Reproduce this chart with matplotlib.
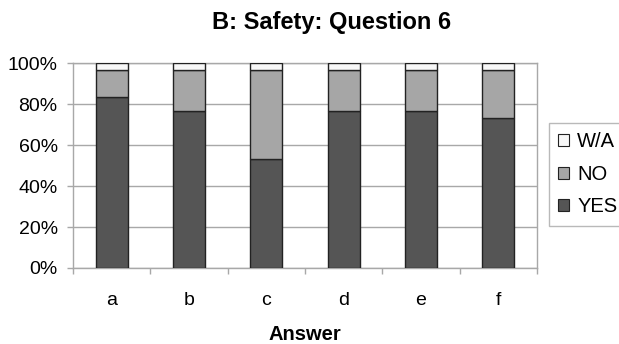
import matplotlib
matplotlib.use("Agg")
import matplotlib.pyplot as plt
from matplotlib.patches import Patch
from matplotlib.ticker import FixedLocator, PercentFormatter

plt.rcParams['font.family'] = ['Liberation Sans', 'DejaVu Sans']

# share of responses per answer option (%)
answers = ['a', 'b', 'c', 'd', 'e', 'f']
yes = [83.3, 76.7, 53.3, 76.7, 76.7, 73.3]
no = [13.3, 20.0, 43.3, 20.0, 20.0, 23.3]
wa = [3.4, 3.3, 3.4, 3.3, 3.3, 3.4]

W, H = 619, 344
fig = plt.figure(figsize=(W / 100, H / 100), dpi=100)
ax = fig.add_axes([73 / W, 1 - 268 / H, (537 - 73) / W, (268 - 63) / H])

x = list(range(len(answers)))
edge = dict(edgecolor='#222222', linewidth=1.0, width=0.41, zorder=3)
ax.bar(x, yes, color='#555555', **edge)
bottom2 = [a + b for a, b in zip(yes, no)]
ax.bar(x, no, bottom=yes, color='#a6a6a6', **edge)
ax.bar(x, wa, bottom=bottom2, color='#f7f7f7', **edge)

ax.set_xlim(-0.5, len(answers) - 0.5)
ax.set_ylim(0, 100)
ax.set_yticks(range(0, 101, 20))
ax.yaxis.set_major_formatter(PercentFormatter(decimals=0))
ax.grid(axis='y', color='#a8a8a8', linewidth=1.0, zorder=0)

ax.set_xticks(x)
ax.set_xticklabels(answers)
ax.xaxis.set_minor_locator(FixedLocator([i - 0.5 for i in range(len(answers) + 1)]))
ax.tick_params(axis='x', which='major', length=0, pad=17, labelsize=14)
ax.tick_params(axis='x', which='minor', length=4, color='#a8a8a8', width=1)
ax.tick_params(axis='y', length=4, color='#a8a8a8', width=1, pad=7, labelsize=14)

for side in ['left', 'bottom', 'right', 'top']:
    ax.spines[side].set_color('#a8a8a8')
    ax.spines[side].set_linewidth(1.0)

ax.set_xlabel('Answer', fontsize=14.5, fontweight='bold', labelpad=12)
fig.text(332 / W, 1 - 22 / H, 'B: Safety: Question 6', ha='center', va='center',
         fontsize=17, fontweight='bold')

handles = [Patch(facecolor='#f7f7f7', edgecolor='#222222', linewidth=0.8, label='W/A'),
           Patch(facecolor='#a6a6a6', edgecolor='#222222', linewidth=0.8, label='NO'),
           Patch(facecolor='#555555', edgecolor='#222222', linewidth=0.8, label='YES')]
leg = fig.legend(handles=handles, loc='upper left', bbox_to_anchor=(549 / W, 1 - 123 / H),
                 fontsize=14.5, frameon=True, fancybox=False, handlelength=0.55,
                 handleheight=0.55, handletextpad=0.4, labelspacing=0.68,
                 borderpad=0.45, borderaxespad=0)
leg.get_frame().set_edgecolor('#a8a8a8')
leg.get_frame().set_linewidth(1.0)

fig.savefig('out.png', dpi=100)
